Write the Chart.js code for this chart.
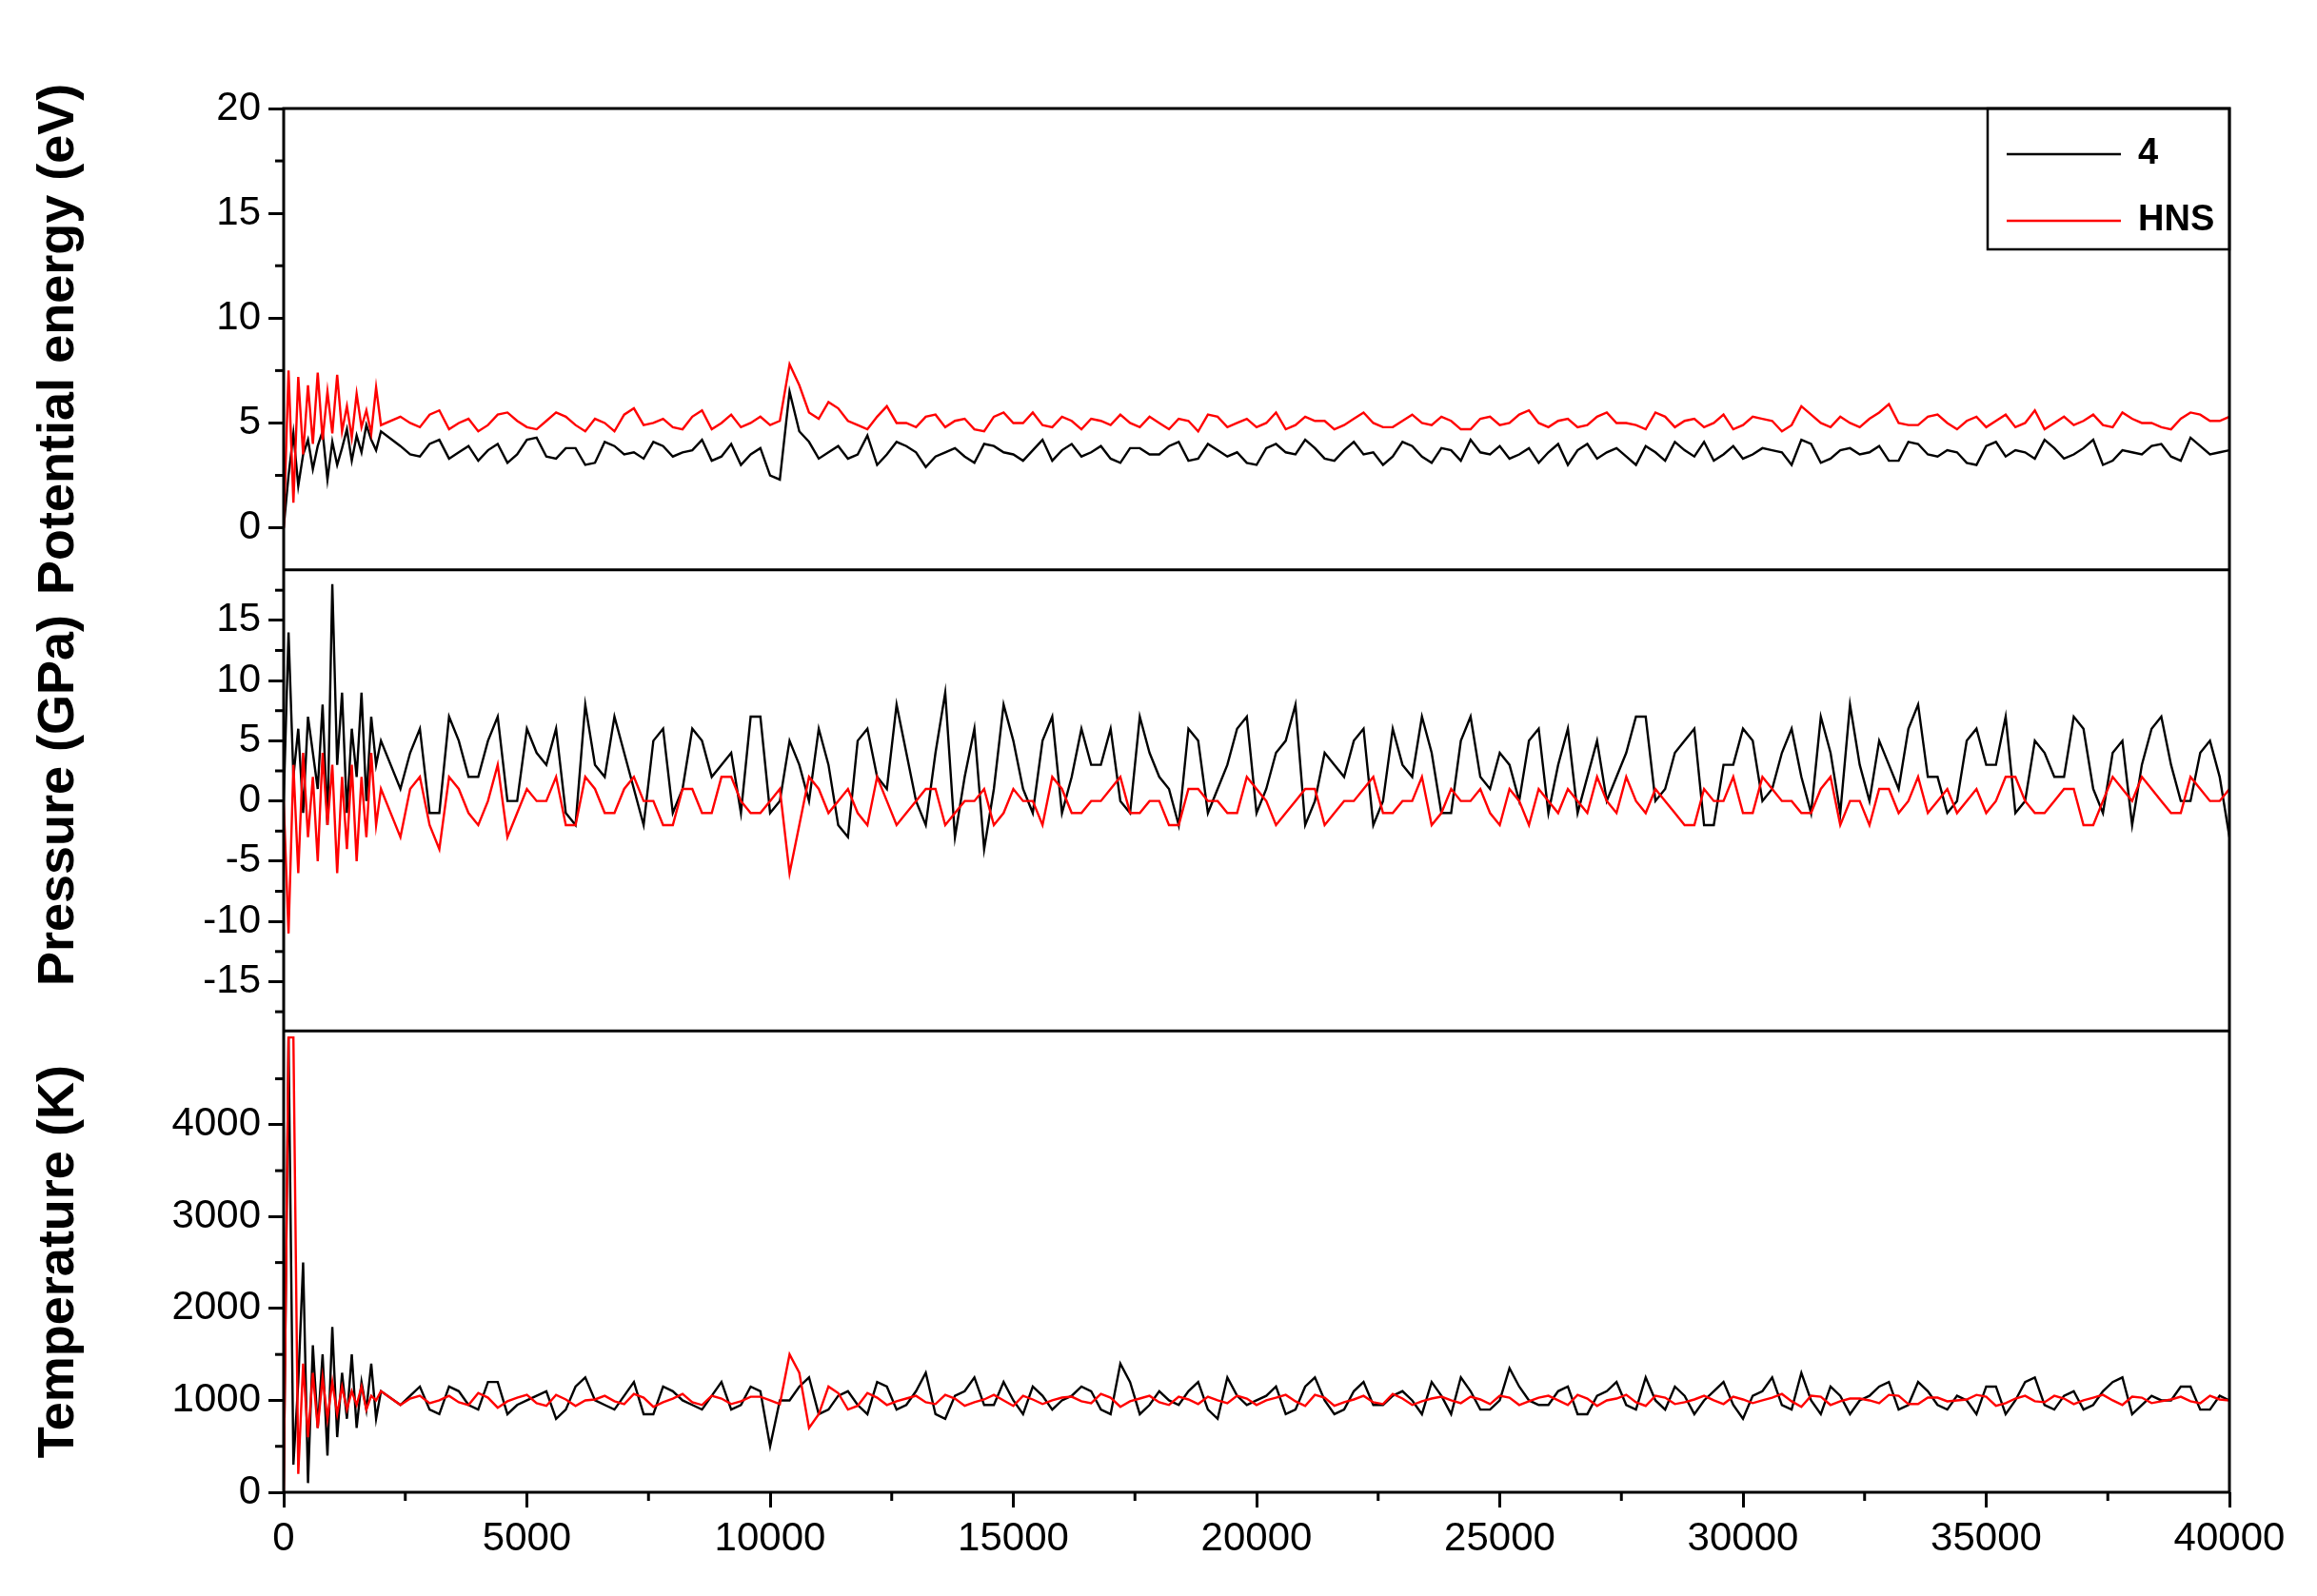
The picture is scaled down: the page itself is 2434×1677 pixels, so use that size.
<!DOCTYPE html>
<html><head><meta charset="utf-8">
<script src="https://cdn.jsdelivr.net/npm/chart.js@4"></script>
<style>html,body{margin:0;padding:0;background:#fff}#c{display:block}</style>
</head><body>
<canvas id="c" width="2434" height="1677"></canvas>
<script>
const xEarly = [0,100,200,300,400,500,600,700,800,900,1000,1100,1200,1300,1400,1500,1600,1700,1800,1900,2000];
const xA = []; for (let v = 2400; v <= 40000; v += 400) xA.push(v);
const xB = []; for (let v = 2600; v <= 39800; v += 400) xB.push(v);

const energy4 = [0,2.5,4.5,2.0,3.5,4.2,2.8,3.9,4.6,2.3,4.1,3.0,3.8,4.7,3.2,4.4,3.6,4.9,4.2,3.7,4.6,
3.9,3.4,4.2,3.6,3.2,4.0,3.5,4.3,3.3,3.8,3.1,3.9,3.6,4.1,3.4,3.7,3.2,4.0,3.5,2.5,
6.5,4.1,3.6,3.3,4.4,3.5,3.9,2.9,3.6,3.4,4.0,3.6,3.2,4.2,3.7,3.4,3.9,3.1,3.8,3.5,
4.1,3.3,3.7,3.6,3.0,4.0,3.5,3.8,3.2,4.1,3.6,3.4,3.9,3.1,3.7,4.2,3.5,3.3,3.8,3.6,
3.0,4.0,3.6,3.4,3.9,3.2,3.7,4.1,3.5,3.3,3.8,3.6,4.2,3.1,3.7,3.5,3.9,3.2,4.0,3.4,
3.6,3.0,4.1,3.7,3.3,3.8,3.5,4.2,3.2,3.6,3.9,3.4,4.3,3.5,3.7];
const energy4B = [3.5,4.0,3.3,3.9,3.7,3.1,4.2,3.4,3.8,3.0,4.1,3.5,3.3,3.9,3.6,4.2,3.4,3.0,3.8,2.3,
4.6,3.3,3.9,3.5,3.0,4.1,3.6,3.4,3.8,3.1,3.9,3.5,3.7,3.2,4.0,3.6,3.3,3.8,3.5,3.9,
3.2,4.0,3.4,3.1,3.8,3.6,4.2,3.3,3.7,3.5,3.0,4.1,3.4,3.8,3.2,3.6,3.9,3.5,3.1,4.0,
3.7,3.3,3.8,3.0,3.6,4.1,3.4,3.2,3.9,3.5,3.7,3.0,4.0,3.3,3.8,3.6,3.2,4.1,3.5,3.7,
3.1,3.9,3.4,3.6,4.2,3.3,3.8,3.0,3.7,3.5,4.0,3.2,3.9,3.6];
const energyHNS = [0,7.5,1.2,7.2,3.5,6.8,4.0,7.4,4.2,6.5,4.5,7.3,4.6,5.8,4.3,6.4,4.8,5.6,4.5,6.7,4.9,
5.3,4.8,5.6,5.0,4.6,5.4,5.1,4.7,5.5,4.9,5.2,4.6,5.7,5.0,4.8,5.3,4.7,5.4,5.0,4.9,
7.8,5.5,6.0,5.1,4.7,5.8,5.0,5.3,4.8,5.2,4.6,5.5,5.0,4.9,5.3,4.7,5.1,5.4,4.8,5.0,
5.2,4.6,5.3,5.0,4.8,5.5,4.9,5.1,4.7,5.2,5.0,4.8,5.4,4.9,5.1,4.7,5.3,5.0,5.6,4.8,
5.2,4.9,5.5,5.0,4.7,5.3,5.1,4.8,5.4,4.9,5.2,4.6,5.8,5.0,5.3,4.8,5.5,5.0,4.9,5.4,
4.7,5.3,5.1,4.8,5.6,5.0,4.9,5.4,4.8,5.2,5.0,4.7,5.5,5.1,5.3];
const energyHNSB = [5.0,5.4,4.7,5.2,4.9,5.5,4.8,5.1,5.3,4.6,5.0,5.4,4.9,5.2,4.7,5.6,5.0,4.8,5.3,5.1,
6.8,5.2,5.7,4.9,5.3,5.0,4.8,5.4,5.1,4.7,5.3,5.0,5.5,4.8,5.1,5.2,4.9,5.0,5.3,4.7,
5.1,5.4,4.8,5.2,5.0,4.7,5.3,5.1,4.9,5.5,4.8,5.1,5.0,5.3,4.7,5.2,4.9,5.4,5.0,5.1,
4.8,5.3,5.0,4.9,5.5,4.8,5.2,5.0,4.7,5.3,5.1,4.9,5.4,4.8,5.0,5.2,5.9,4.9,5.3,5.0,
5.1,4.8,5.4,5.0,4.7,5.3,5.1,4.9,5.5,5.0,4.8,5.2,5.4,5.1];
const pressure4 = [0,14,2,6,-1,7,4,1,8,-2,18,3,9,-1,6,2,9,0,7,3,5,
1,6,-1,5,2,7,0,4,6,-2,3,7,1,5,-1,6,2,4,7,-1,
5,0,3,-3,6,1,4,-2,9,2,-4,8,1,5,-1,6,3,0,7,2,
-2,5,1,6,-1,4,8,0,3,5,-2,6,2,4,-1,7,1,3,5,-1,
6,2,0,4,7,1,5,-2,3,6,0,4,2,7,-1,3,5,1,8,2,
0,6,3,-1,5,2,7,1,4,-2,6,3,0,5,-3];
const pressure4B = [4,-1,7,2,5,0,6,3,-1,8,2,4,-2,6,1,5,3,-1,7,0,
3,6,-2,5,2,8,0,4,-3,6,1,5,-1,7,2,3,6,-1,4,1,
6,-1,3,7,1,5,-2,4,2,6,0,3,7,-1,5,2,4,0,6,3,
-1,5,2,7,0,4,6,-2,3,5,1,6,-1,4,8,0,3,6,2,-1,
5,3,7,0,4,2,6,-1,5,3,7,0,4,2];
const pressureHNS = [0,-11,3,-6,4,-3,2,-5,4,-2,3,-6,2,-4,3,-5,2,-3,4,-2,1,
-3,2,-4,1,-2,3,-1,0,2,-2,1,-1,2,0,-2,1,-1,2,-1,0,
-6,2,-1,1,-2,0,-1,1,-2,0,1,-1,0,-2,1,-1,0,2,-1,0,
-2,1,0,-1,1,-2,0,1,-1,0,2,-1,0,-2,1,0,-1,1,-2,0,
1,-1,0,2,-1,0,-2,1,0,-1,2,0,-1,1,-2,0,1,-1,2,0,
-1,1,0,2,-1,0,1,-2,2,0,1,-1,2,0,1];
const pressureHNSB = [1,-2,2,-1,0,-3,1,0,-2,2,-1,1,0,-2,1,-1,2,0,-1,1,
-2,1,0,-1,2,-2,0,1,-1,0,-2,1,0,2,-1,0,1,-1,0,-2,
1,0,-1,2,0,-1,1,-2,0,1,-1,0,2,-1,0,1,-2,0,1,-1,
0,2,-1,0,1,-1,-2,0,2,-1,1,0,-1,2,0,-2,1,0,-1,1,
0,-1,2,0,-1,1,-2,0,1,2,0,-1,1,0];
const temp4 = [0,4950,300,1200,2500,100,1600,700,1500,400,1800,600,1300,800,1500,700,1200,900,1400,800,1100,
950,1150,850,1100,900,1200,950,1050,800,1150,1000,900,1200,850,1100,950,1050,900,1150,500,
1000,1250,900,1100,850,1150,950,1300,800,1100,950,1200,850,1050,1000,1150,900,1400,850,1100,
950,1200,800,1050,1000,1150,900,1250,850,1100,950,1050,1000,1200,850,1100,900,1350,1000,950,
1150,850,1100,950,1250,900,1050,1000,1200,800,1100,950,1300,850,1050,1000,1150,900,1200,950,
1050,850,1150,1000,1250,900,1100,950,1200,850,1050,1000,1150,900,1000];
const temp4B = [1050,900,1150,950,1200,850,1000,1100,900,1250,950,1050,850,1150,1000,900,1200,950,1100,1000,
1150,850,1050,950,1200,900,1100,850,1050,1250,950,1000,1150,900,1050,1100,850,1200,950,1000,
1100,900,1250,950,1050,850,1150,1000,900,1200,950,1100,850,1050,1250,900,1000,1150,950,1100,
850,1050,1200,900,1000,1150,850,1100,950,1050,1250,900,1000,1150,850,1050,1200,950,1100,900,
1000,1150,850,1200,950,1050,900,1100,1250,950,1000,1150,900,1050];
const tempHNS = [0,4950,4950,200,1400,600,1300,700,1250,800,1200,850,1150,900,1100,950,1150,900,1050,1000,1100,
950,1050,1000,980,1080,920,1030,970,1060,940,1010,990,1070,930,1020,980,1050,960,1040,1000,
1500,700,1150,900,1080,950,1020,980,1060,940,1010,1000,1050,960,1030,990,1070,930,1020,980,
1040,960,1000,1050,950,1030,990,1060,940,1010,980,1070,950,1020,1000,1040,960,1030,990,1050,
950,1020,1000,1060,940,1030,980,1050,960,1010,1000,1070,930,1040,990,1020,970,1050,960,1030,
1000,1060,940,1020,990,1050,960,1030,1000,1040,970,1010,990,1050,1000];
const tempHNSB = [1020,970,1050,950,1030,990,1060,940,1010,1000,1050,960,1030,980,1070,950,1020,990,1040,960,
1300,850,1080,940,1030,990,1050,960,1020,980,1060,940,1010,1000,1040,970,1030,990,1050,950,
1010,1040,970,1020,1000,1060,940,1030,980,1050,960,1020,990,1040,970,1010,1050,950,1030,1000,
1060,940,1020,980,1050,960,1010,1000,1040,970,1030,990,1050,950,1020,1000,1060,960,1030,990,
1010,1040,970,1050,980,1020,1000,1060,950,1030,990,1040,970,1010];

const seriesNames = ['4','HNS'];
const seriesColors = ['#000000','#ff0000'];
const xTicks = [0,5000,10000,15000,20000,25000,30000,35000,40000];
const eTicks = [0,5,10,15,20];
const pTicks = [-15,-10,-5,0,5,10,15];
const tTicks = [0,1000,2000,3000,4000];

function pts(main, extra) {
  const out = [];
  xEarly.forEach((x,i)=>out.push({x, y: main[i]}));
  xA.forEach((x,k)=>{
    out.push({x, y: main[xEarly.length + k]});
    if (k < xB.length) out.push({x: xB[k], y: extra[k]});
  });
  return out;
}
const ds = (main, extra, k, axis) => ({label: seriesNames[k], data: pts(main, extra), yAxisID: axis,
  borderColor: seriesColors[k], borderWidth: 2.4, pointRadius: 0, tension: 0});

const font = {family: '"Liberation Sans", Arial', size: 42};
const titleFont = {family: '"Liberation Sans", Arial', size: 54, weight: 'bold'};
function yScale(ticks, min, max, title) {
  return {type:'linear', position:'left', stack:'s', stackWeight:1, offset:false, min, max,
    afterBuildTicks: s => { s.ticks = ticks.map(v=>({value:v})); },
    afterFit: s => { s.width = 268; },
    ticks:{font, color:'#000', padding:8, autoSkip:false, callback: v => String(v)},
    grid:{drawOnChartArea:false, color:'#000', lineWidth:3, tickLength:16},
    border:{display:false},
    title:{display:true, text:title, font:titleFont, color:'#000', padding:{top:0,bottom:2}}};
}
const minorTicks = {yT:[500,1500,2500,3500,4500], yP:[-17.5,-12.5,-7.5,-2.5,2.5,7.5,12.5,17.5], yE:[2.5,7.5,12.5,17.5]};

const framePlugin = {
  id:'frame',
  afterDraw(c){
    const ctx=c.ctx, a=c.chartArea;
    ctx.save(); ctx.strokeStyle='#000'; ctx.lineWidth=3;
    ctx.strokeRect(a.left,a.top,a.right-a.left,a.bottom-a.top);
    ['yE','yP'].forEach(id=>{ const s=c.scales[id]; ctx.beginPath(); ctx.moveTo(a.left,s.bottom); ctx.lineTo(a.right,s.bottom); ctx.stroke(); });
    Object.keys(minorTicks).forEach(id=>{ const s=c.scales[id];
      minorTicks[id].forEach(v=>{ if(v<s.min||v>s.max) return; const y=s.getPixelForValue(v);
        ctx.beginPath(); ctx.moveTo(a.left-9,y); ctx.lineTo(a.left,y); ctx.stroke(); });});
    const xs=c.scales.x;
    for(let v=2500; v<40000; v+=5000){ const x=xs.getPixelForValue(v); ctx.beginPath(); ctx.moveTo(x,a.bottom); ctx.lineTo(x,a.bottom+9); ctx.stroke(); }
    const lx=2088, ly=a.top, lw=a.right-lx, lh=148;
    ctx.lineWidth=2.5; ctx.strokeRect(lx,ly,lw,lh);
    ctx.font='bold 38px "Liberation Sans", Arial'; ctx.textBaseline='middle';
    seriesNames.forEach((n,i)=>{ const y=ly+48+i*70; ctx.strokeStyle=seriesColors[i]; ctx.lineWidth=2.5;
      ctx.beginPath(); ctx.moveTo(lx+20,y); ctx.lineTo(lx+140,y); ctx.stroke();
      ctx.fillStyle='#000'; ctx.fillText(n, lx+158, y); });
    ctx.restore();
  }
};

new Chart(document.getElementById('c'), {
  type:'line',
  data:{datasets:[
    ds(energyHNS,energyHNSB,1,'yE'), ds(energy4,energy4B,0,'yE'),
    ds(pressureHNS,pressureHNSB,1,'yP'), ds(pressure4,pressure4B,0,'yP'),
    ds(tempHNS,tempHNSB,1,'yT'), ds(temp4,temp4B,0,'yT')]},
  options:{
    responsive:false, animation:false, devicePixelRatio:1,
    layout:{padding:{left:30, right:92, top:114, bottom:6}},
    plugins:{legend:{display:false}, tooltip:{enabled:false}},
    scales:{
      x:{type:'linear', min:0, max:40000,
        afterBuildTicks: s => { s.ticks = xTicks.map(v=>({value:v})); },
        afterFit: s => { s.height = 103; },
        ticks:{font, color:'#000', maxRotation:0, padding:8, autoSkip:false, callback: v => String(v)},
        grid:{drawOnChartArea:false, color:'#000', lineWidth:3, tickLength:16},
        border:{display:false}},
      yT: yScale(tTicks, 0, 5020, 'Temperature (K)'),
      yP: yScale(pTicks, -19.1, 19.2, 'Pressure (GPa)'),
      yE: yScale(eTicks, -2, 20, 'Potential energy (eV)')
    }
  },
  plugins:[framePlugin]
});
</script>
</body></html>
